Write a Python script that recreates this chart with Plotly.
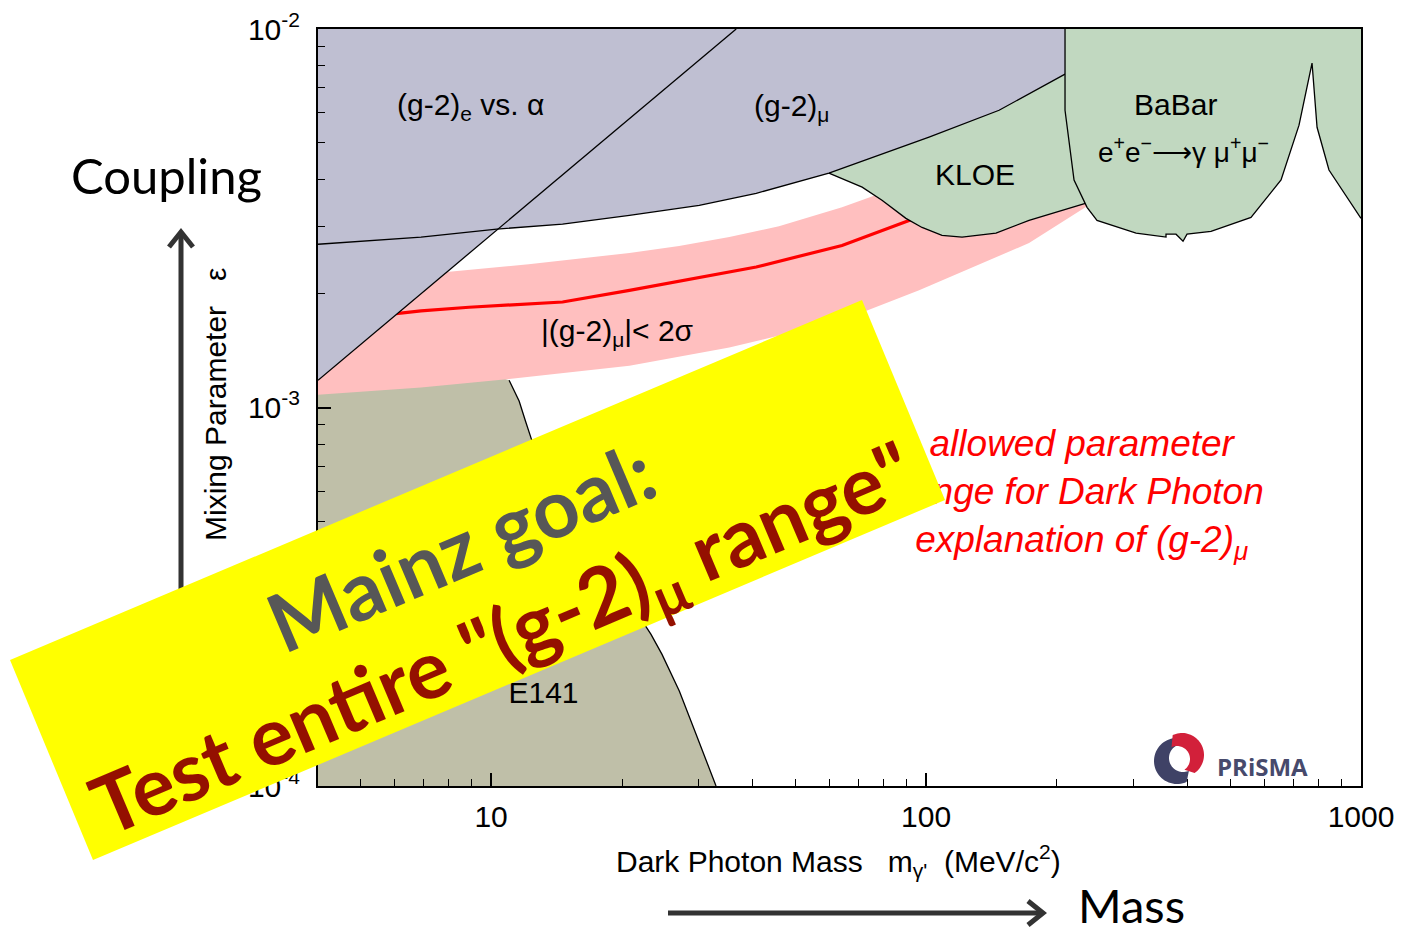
import math
import numpy as np
import plotly.graph_objects as go

# ---------------- data ----------------
# mass in MeV/c^2, mixing parameter epsilon
g2e_mass = [4.0, 36.6]
g2e_eps = [1.18e-3, 1.0e-2]

g2mu_mass = [4.0, 6.9, 10.3, 14.6, 20.8, 30.1, 40.7, 59.8, 101.6, 147.2, 208.7]
g2mu_eps = [2.70e-3, 2.82e-3, 2.96e-3, 3.05e-3, 3.22e-3, 3.42e-3, 3.68e-3, 4.16e-3, 5.18e-3, 6.10e-3, 7.60e-3]

kloe_mass = [59.8, 71.3, 79.2, 89.9, 97.9, 108.8, 121.0, 144.8, 172.5, 234.5]
kloe_eps = [4.16e-3, 3.82e-3, 3.53e-3, 3.16e-3, 2.99e-3, 2.85e-3, 2.82e-3, 2.89e-3, 3.12e-3, 3.47e-3]

babar_mass = [208.7, 208.7, 218.9, 234.5, 247.2, 304.0, 356.2, 356.2, 375.6, 389.8, 398.1,
              452.0, 558.6, 654.9, 720.3, 771.7, 792.4, 844.1, 1000.0]
babar_eps = [1.0e-2, 6.10e-3, 3.99e-3, 3.38e-3, 3.12e-3, 2.89e-3, 2.82e-3, 2.87e-3, 2.87e-3, 2.75e-3, 2.87e-3,
             2.92e-3, 3.18e-3, 3.99e-3, 5.57e-3, 8.13e-3, 5.50e-3, 4.24e-3, 3.16e-3]

band_mass_upper = [4.0, 7.9, 12.2, 20.8, 27.05, 35.3, 45.9, 64.1, 74.0, 108.8, 172.5, 234.5]
band_eps_upper = [2.10e-3, 2.28e-3, 2.39e-3, 2.56e-3, 2.67e-3, 2.82e-3, 3.01e-3, 3.38e-3, 3.59e-3,
                  4.24e-3, 5.09e-3, 5.81e-3]
band_mass_lower = [4.0, 6.9, 11.0, 20.8, 35.3, 64.1, 96.4, 172.5, 234.5]
band_eps_lower = [1.08e-3, 1.13e-3, 1.19e-3, 1.29e-3, 1.44e-3, 1.70e-3, 2.04e-3, 2.72e-3, 3.40e-3]

central_mass = [6.05, 6.9, 8.9, 14.6, 20.8, 40.7, 64.1, 91.4, 107.0]
central_eps = [1.77e-3, 1.80e-3, 1.84e-3, 1.90e-3, 2.04e-3, 2.35e-3, 2.68e-3, 3.12e-3, 3.36e-3]

e141_mass = [11.0, 11.6, 12.0, 12.4, 14.3, 16.8, 19.7, 23.3, 24.7, 27.1, 29.6, 32.9]
e141_eps = [1.18e-3, 1.04e-3, 9.2e-4, 8.2e-4, 6.0e-4, 4.45e-4, 3.38e-4, 2.52e-4, 2.23e-4, 1.78e-4, 1.37e-4, 1.0e-4]
e141_hidden_mass = [4.0, 4.0, 9.4]
e141_hidden_eps = [1.0e-4, 1.25e-3, 1.25e-3]

x_major = [10, 100, 1000]
x_major_text = ["10", "100", "1000"]
x_minor = [5, 6, 7, 8, 9, 20, 30, 40, 50, 60, 70, 80, 90, 200, 300, 400, 500, 600, 700, 800, 900]
y_major = [1e-4, 1e-3, 1e-2]
y_major_text = ["10<sup>-4</sup>", "10<sup>-3</sup>", "10<sup>-2</sup>"]
y_minor = [2e-4, 3e-4, 4e-4, 5e-4, 6e-4, 7e-4, 8e-4, 9e-4,
           2e-3, 3e-3, 4e-3, 5e-3, 6e-3, 7e-3, 8e-3, 9e-3]

# label positions (data coordinates) for text drawn under the banner
e141_label = (13.2, 1.73e-4)
allowed_label = (228.0, 5.89e-4)

# ---------------- styling ----------------
SANS = "Liberation Sans, Arial, Helvetica, sans-serif"
LATO = "Lato, Carlito, Calibri, sans-serif"
PURPLE = "#bfbfd2"
GREEN = "#c1d8c0"
OLIVE = "#bfbfa8"
PINK = "#ffbfbf"
FS = 30

fig = go.Figure()


def fill(xs, ys, color):
    fig.add_trace(go.Scatter(x=xs, y=ys, mode="none", fill="toself", fillcolor=color,
                             hoverinfo="skip", showlegend=False))


def line(xs, ys, color="black", width=1.3):
    fig.add_trace(go.Scatter(x=xs, y=ys, mode="lines", line=dict(color=color, width=width),
                             hoverinfo="skip", showlegend=False))


# E141
fill(e141_hidden_mass + e141_mass, e141_hidden_eps + e141_eps, OLIVE)
line(e141_mass, e141_eps)
# pink band
fill(band_mass_upper + band_mass_lower[::-1], band_eps_upper + band_eps_lower[::-1], PINK)
line(central_mass, central_eps, color="#ff0000", width=3.2)
# KLOE
fill(kloe_mass + [kloe_mass[-1], kloe_mass[0]], kloe_eps + [1e-2, 1e-2], GREEN)
# (g-2) regions
fill(g2mu_mass + [g2mu_mass[-1], g2mu_mass[0]], g2mu_eps + [1e-2, 1e-2], PURPLE)
fill(g2e_mass + [g2e_mass[0]], g2e_eps + [1e-2], PURPLE)
line(g2e_mass, g2e_eps)
line(g2mu_mass, g2mu_eps)
line(kloe_mass, kloe_eps)
# BaBar
fill(babar_mass + [babar_mass[-1]], babar_eps + [1e-2], GREEN)
line(babar_mass, babar_eps)

# texts that sit under the banner
fig.add_trace(go.Scatter(x=[e141_label[0]], y=[e141_label[1]], mode="text", text=["E141"],
                         textfont=dict(family=SANS, size=FS, color="black"),
                         hoverinfo="skip", showlegend=False))
fig.add_trace(go.Scatter(x=[allowed_label[0]], y=[allowed_label[1]], mode="text",
                         text=["allowed parameter<br>range for Dark Photon<br>explanation of (g-2)<sub>μ</sub>"],
                         textfont=dict(family=SANS, size=37, color="#ff0000", style="italic"),
                         hoverinfo="skip", showlegend=False))

# ---------------- axes ----------------
axis_common = dict(showgrid=False, zeroline=False, showline=True, linecolor="black", linewidth=2,
                   mirror=True, ticks="inside", tickcolor="black", tickwidth=1.5, ticklen=13,
                   tickmode="array", automargin=False,
                   tickfont=dict(family=SANS, size=FS, color="black"))
fig.update_xaxes(type="log", range=[math.log10(4), 3], tickvals=x_major, ticktext=x_major_text,
                 minor=dict(ticks="inside", ticklen=7, tickwidth=1.2, tickcolor="black",
                            tickmode="array", tickvals=x_minor),
                 ticklabelstandoff=3, **axis_common)
fig.update_yaxes(type="log", range=[-4, -2], tickvals=y_major, ticktext=y_major_text,
                 minor=dict(ticks="inside", ticklen=7, tickwidth=1.2, tickcolor="black",
                            tickmode="array", tickvals=y_minor),
                 ticklabelstandoff=10, **axis_common)

# ---------------- decorations (pixel -> paper helpers) ----------------
L, R, T, B = 318, 1361, 29, 786


def PX(x):
    return (x - L) / (R - L)


def PY(y):
    return (B - y) / (B - T)


def path(points):
    return "M " + " L ".join(f"{PX(x):.5f},{PY(y):.5f}" for x, y in points) + " Z"


def openpath(points):
    return "M " + " L ".join(f"{PX(x):.5f},{PY(y):.5f}" for x, y in points)


shapes = []
ARROW = "#333333"
# vertical arrow (goes under the banner)
shapes.append(dict(type="line", xref="paper", yref="paper", x0=PX(181), y0=PY(760), x1=PX(181), y1=PY(233),
                   line=dict(color=ARROW, width=5), layer="below"))
shapes.append(dict(type="path", xref="paper", yref="paper",
                   path=openpath([(169, 247), (181, 232), (193, 247)]),
                   line=dict(color=ARROW, width=5), layer="below"))
# horizontal arrow
shapes.append(dict(type="line", xref="paper", yref="paper", x0=PX(668), y0=PY(913), x1=PX(1040), y1=PY(913),
                   line=dict(color=ARROW, width=5), layer="below"))
shapes.append(dict(type="path", xref="paper", yref="paper",
                   path=openpath([(1028, 901), (1043, 913), (1028, 925)]),
                   line=dict(color=ARROW, width=5), layer="below"))
# yellow banner
shapes.append(dict(type="path", xref="paper", yref="paper",
                   path=path([(10, 660), (862, 300), (945, 500), (93, 860)]),
                   fillcolor="#ffff00", line=dict(width=0), layer="above"))


# PRISMA logo (two crescents)
def crescent(cx, cy, r, cx2, cy2, r2, a0, a1, n=40):
    angs = np.radians(np.linspace(a0, a1, n))
    pts = [(cx + r * math.cos(a), cy - r * math.sin(a)) for a in angs]
    pts += [(cx2 + r2 * math.cos(a), cy2 - r2 * math.sin(a)) for a in angs[::-1]]
    return path(pts)


shapes.append(dict(type="path", xref="paper", yref="paper",
                   path=crescent(1177, 761, 23, 1183, 758, 14, 95, 295),
                   fillcolor="#3f4266", line=dict(width=0), layer="above"))
shapes.append(dict(type="path", xref="paper", yref="paper",
                   path=crescent(1182, 755, 22, 1177, 759, 13, 115, -55),
                   fillcolor="#d2203a", line=dict(width=0), layer="above"))


def ann(text, x, y, size=FS, color="black", family=SANS, angle=0):
    return dict(text=text, x=PX(x), y=PY(y), xref="paper", yref="paper", showarrow=False,
                xanchor="center", yanchor="middle", textangle=angle,
                font=dict(size=size, color=color, family=family))


NB = "\u00a0"
annotations = [
    ann("(g-2)<sub>e</sub> vs. α", 470, 106),
    ann("(g-2)<sub>μ</sub>", 791, 107),
    ann("KLOE", 975, 175),
    ann("BaBar", 1175, 104),
    ann("e<sup>+</sup>e<sup>−</sup>⟶γ μ<sup>+</sup>μ<sup>−</sup>", 1183, 150, size=28),
    ann("|(g-2)<sub>μ</sub>|< 2σ", 617, 332),
    ann("Mixing Parameter" + NB * 3 + "ε", 215, 405, angle=-90),
    ann("Dark Photon Mass" + NB * 3 + "m<sub>γ'</sub>" + NB * 2 + "(MeV/c<sup>2</sup>)", 838, 861),
    ann("Coupling", 166, 175, size=49, family=LATO),
    ann("Mass", 1131, 905, size=47, family=LATO),
    ann("<b>Mainz goal:</b>", 460, 545, size=81, color="#575757", family=LATO, angle=-23),
    ann("<b>Test entire \"(g-2)<sub>μ</sub> range\"</b>", 503, 641, size=81, color="#941000",
        family=LATO, angle=-23),
    ann("<b>PRiSMA</b>", 1262, 766, size=24, color="#474a6c", family="Open Sans, sans-serif"),
]

fig.update_layout(
    template="none",
    width=1403, height=932, autosize=False,
    margin=dict(l=L, r=1403 - R, t=T, b=932 - B, pad=0),
    paper_bgcolor="white", plot_bgcolor="white",
    showlegend=False,
    font=dict(family=SANS, size=FS, color="black"),
    shapes=shapes,
    annotations=annotations,
)

fig.write_html("out.html")
